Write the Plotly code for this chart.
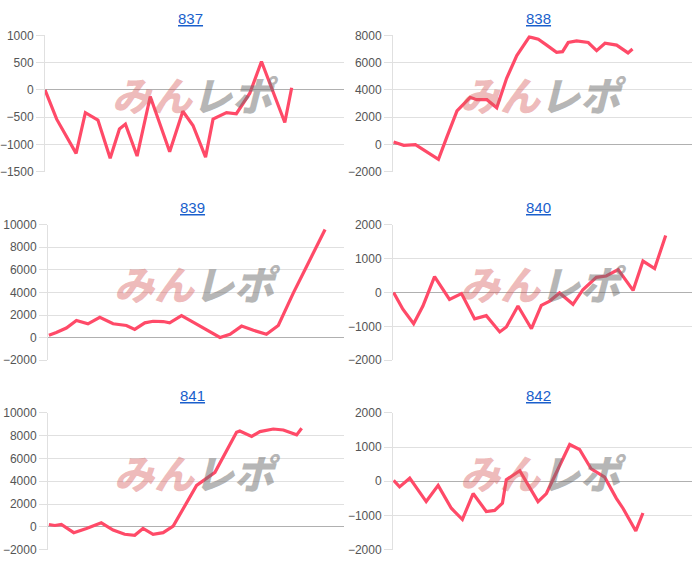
import plotly.graph_objects as go

# x positions are read as percent of each panel's horizontal extent
titles = ["837", "838", "839", "840", "841", "842"]

x837 = [0, 3.9, 10.4, 13.5, 17.7, 21.8, 24.9, 26.9, 30.8, 35.2, 41.7, 46.1, 49.5, 53.7, 56.2, 60.7, 64.0, 68.5, 72.4, 80.2, 82.5]
y837 = [0, -535, -1160, -415, -550, -1250, -715, -625, -1210, -120, -1130, -390, -650, -1230, -535, -415, -435, -60, 520, -595, 40]

x838 = [0.2, 3.6, 7.5, 11.3, 15.2, 18.0, 21.4, 25.8, 28.0, 31.4, 34.7, 38.0, 41.4, 45.6, 48.6, 51.4, 54.7, 56.7, 58.6, 61.4, 65.3, 68.1, 70.9, 74.8, 78.6, 80.1]
y838 = [190, -50, 0, -525, -1075, 550, 2460, 3460, 3290, 3290, 2700, 4850, 6520, 7880, 7710, 7280, 6755, 6800, 7470, 7590, 7470, 6875, 7420, 7280, 6710, 7000]

x839 = [0.3, 2.8, 6.2, 9.6, 13.5, 17.5, 22.0, 26.5, 29.3, 32.7, 35.5, 38.9, 41.1, 45.1, 49.0, 53.6, 58.1, 61.5, 65.4, 69.4, 73.8, 77.8, 82.9, 87.4, 93.6]
y839 = [215, 450, 850, 1510, 1225, 1800, 1225, 1080, 730, 1310, 1450, 1425, 1310, 1940, 1370, 650, 15, 300, 1020, 650, 300, 1080, 3960, 6320, 9570]

x840 = [0.2, 3.3, 6.9, 10.0, 13.9, 18.9, 22.9, 27.3, 31.2, 35.7, 37.9, 41.8, 46.3, 49.6, 52.4, 55.7, 60.2, 63.5, 68.0, 71.3, 75.3, 80.3, 83.6, 87.5, 91.2]
y840 = [0, -495, -925, -400, 465, -205, -35, -780, -685, -1165, -1020, -400, -1070, -380, -255, -15, -350, 80, 445, 485, 675, 60, 925, 705, 1680]

x841 = [0.3, 2.3, 4.5, 8.7, 13.0, 18.0, 22.0, 25.9, 29.3, 32.1, 35.5, 38.9, 42.3, 50.2, 56.4, 63.7, 64.8, 68.8, 71.6, 76.1, 79.5, 84.0, 85.7]
y841 = [200, 115, 200, -515, -145, 345, -285, -660, -745, -145, -660, -515, 55, 3640, 4780, 8305, 8420, 7935, 8360, 8590, 8505, 8075, 8650]

x842 = [0.2, 2.2, 5.6, 11.1, 15.1, 19.5, 23.2, 26.8, 31.2, 34.0, 36.6, 37.9, 42.4, 48.5, 51.3, 59.1, 62.4, 66.3, 70.8, 74.7, 76.9, 81.2, 83.6]
y842 = [25, -165, 90, -595, -120, -790, -1120, -360, -885, -855, -645, 45, 310, -595, -360, 1075, 930, 360, 120, -500, -790, -1455, -930]

xs = [x837, x838, x839, x840, x841, x842]
ys = [y837, y838, y839, y840, y841, y842]
yranges = [[-1500, 1000], [-2000, 8000], [-2000, 10000], [-2000, 2000], [-2000, 10000], [-2000, 2000]]
ydticks = [500, 2000, 2000, 1000, 2000, 1000]

W, H = 700, 579
# plot-area pixel boxes (left, right, top, bottom)
boxes = [
    (45, 344, 29, 169), (393, 692, 29, 169),
    (48, 344, 223, 362), (393, 692, 223, 362),
    (48, 344, 416, 556), (393, 692, 416, 556),
]
title_y = [12, 12, 205, 205, 398, 398]

fig = go.Figure()
LINE = "#ff4a68"
GRID = "#e0e0e0"

for i in range(6):
    n = i + 1
    sfx = "" if n == 1 else str(n)
    fig.add_trace(go.Scatter(
        x=xs[i], y=ys[i], mode="lines",
        line=dict(color=LINE, width=3.2),
        xaxis="x" + sfx, yaxis="y" + sfx, showlegend=False, hoverinfo="skip",
    ))
    l, r, t, b = boxes[i]
    fig.layout["xaxis" + sfx] = dict(
        domain=[l / W, r / W], range=[0, 100], anchor="y" + sfx,
        showgrid=False, zeroline=False, showticklabels=False, showline=False, ticks="",
    )
    fig.layout["yaxis" + sfx] = dict(
        domain=[1 - b / H, 1 - t / H], range=yranges[i], dtick=ydticks[i], anchor="x" + sfx,
        tickformat="d",
        showgrid=True, gridcolor=GRID, gridwidth=1,
        zeroline=True, zerolinecolor="#b0b0b0", zerolinewidth=1,
        showline=True, linecolor=GRID, linewidth=1,
        ticks="outside", ticklen=8, tickcolor=GRID,
        tickfont=dict(family="Liberation Sans, Arial", size=12, color="#555555"),
        ticklabelstandoff=0,
    )
    # title link
    fig.add_annotation(
        text="<u>" + titles[i] + "</u>", xref="paper", yref="paper",
        x=((l + r) / 2 - 4) / W, y=1 - title_y[i] / H, showarrow=False,
        xanchor="center", yanchor="middle",
        font=dict(family="Liberation Sans, Arial", size=15, color="#1a5fcc"),
    )
    # watermark
    fig.add_annotation(
        text="<i><span style='color:rgba(215,90,90,0.42)'>みん</span>"
             "<span style='color:rgba(110,110,110,0.5)'>レポ</span></i>",
        xref="x" + sfx + " domain", yref="y" + sfx + " domain",
        x=0.505, y=0.57, showarrow=False, xanchor="center", yanchor="middle",
        font=dict(family="Noto Sans CJK JP", size=40, weight=900),
    )

fig.update_layout(
    width=W, height=H, margin=dict(l=0, r=0, t=0, b=0),
    paper_bgcolor="white", plot_bgcolor="white",
)
fig.write_html("out.html")
